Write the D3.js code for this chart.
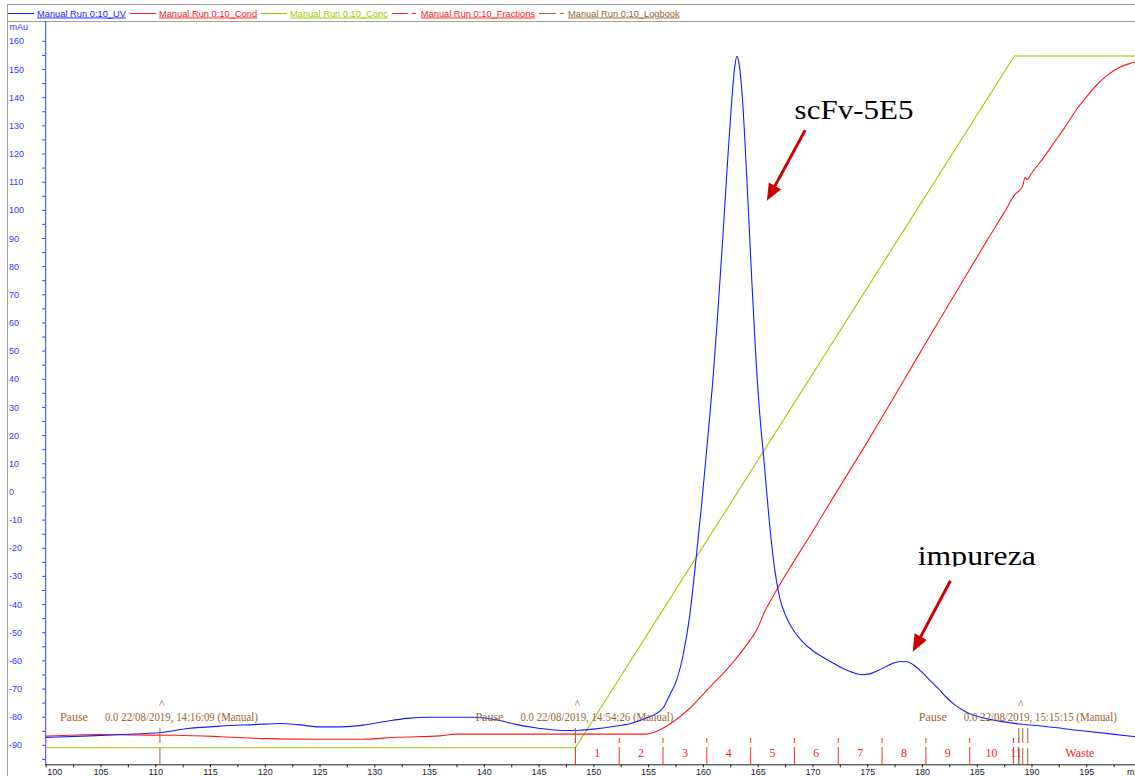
<!DOCTYPE html>
<html>
<head>
<meta charset="utf-8">
<script src="https://cdn.jsdelivr.net/npm/d3@7"></script>
<style>
  html, body { margin: 0; padding: 0; background: #ffffff; }
  svg { display: block; }
</style>
</head>
<body>
<svg id="chart" width="1135" height="776"></svg>
<script>
// ---- Chromatogram data (volume in ml) ----
const uvMl = [100, 104, 107, 110.5, 113, 116, 119, 121.5, 123, 125, 127, 129, 131, 133, 135, 139, 141, 143, 145, 147.2,
  148.7, 150, 151.8, 153.5, 154.8, 155.7, 156.35, 157.0, 157.6, 158.2, 158.8, 159.4, 159.9, 160.4, 160.9, 161.3, 161.8,
  162.2, 162.6, 162.9, 163.1, 163.3, 163.6, 164.0, 164.4, 164.8, 165.2, 165.6, 166.0, 166.5, 167.0, 167.6, 168.3, 169.0,
  170, 171, 172, 173, 174, 174.6, 175.3, 176, 177, 178, 178.6, 179.3, 180, 180.7, 181.5, 182.2, 183, 183.7, 184.5, 185.2,
  186.8, 188.9, 191.3, 194.4, 197.4, 200];
const uvValues = [-87.4, -86.8, -86.3, -85.6, -84.2, -83.3, -82.8, -82.4, -82.8, -83.6, -83.6, -83, -81.7, -80.6, -80.2, -80.2, -81, -82.8, -84.1, -84.9,
  -84.8, -84.4, -83.5, -82.3, -80.5, -79, -77, -72, -67, -58, -44, -23, -4, 17, 39, 60, 89,
  114, 137, 150.5, 154.5, 152, 140, 112, 80, 50, 27, 10, -8, -26, -37.5, -44.5, -49.5, -53,
  -56.5, -59, -61.2, -63.2, -64.7, -65.1, -64.7, -63.6, -61.6, -60.4, -60.5, -61.8, -64.2, -67, -70, -73, -75.8, -77.6, -79.2, -80,
  -81.4, -82.6, -83.5, -84.9, -86.2, -87.3];

const condMl = [100, 105, 108, 112, 116, 120, 125, 129, 132, 136, 137.5, 154.8, 155.5, 156.35, 157.1, 157.9, 158.8, 159.7,
  161, 162, 163, 164, 165, 165.6, 166.5, 168, 170, 172, 175, 178, 181, 184, 186, 187.5, 188.44, 189.2, 189.4, 189.6,
  190, 191, 192, 193, 194, 195, 196, 197, 198, 199, 200];
const condValues = [-86.9, -86.3, -86.5, -86.6, -87.1, -87.8, -88, -88, -87.3, -86.8, -86.2, -86.2, -85.6, -84.1, -82.3, -80, -77, -73.4,
  -68, -64, -59.5, -54.5, -48.5, -43, -36.6, -26.8, -14.3, -1.5, 17.5, 37.2, 57, 76.5, 89.5, 99, 105.2, 108.5, 111.5, 110.8,
  113, 118, 123.5, 129, 135, 140, 144.5, 148, 150.5, 152, 152.8];

const concMl = [100, 148.36, 188.44, 200];
const concValues = [-91, -91, 154.6, 154.6];

// fraction boundaries (start of each fraction) and their labels; last one runs to the end
const fractionStarts = [148.36, 152.36, 156.36, 160.36, 164.36, 168.36, 172.36, 176.36, 180.36, 184.36, 188.36, 188.83];
const fractionLabels = ["1", "2", "3", "4", "5", "6", "7", "8", "9", "10", "11", "Waste"];
const fractionEnd = 200;

// logbook events
const logbookMl = [110.43, 148.36, 188.84, 189.2, 189.66];
const logbookEvent = ["Pause", "Pause", "Pause", "", ""];
const logbookInfo = ["0.0 22/08/2019, 14:16:09 (Manual)", "0.0 22/08/2019, 14:54:26 (Manual)", "0.0 22/08/2019, 15:15:15 (Manual)", "", ""];

// curve legend
const legendNames = ["Manual Run 0:10_UV", "Manual Run 0:10_Cond", "Manual Run 0:10_Conc", "Manual Run 0:10_Fractions", "Manual Run 0:10_Logbook"];
const legendColors = ["#1a1aff", "#ff2020", "#99cc00", "#ff2020", "#9a6630"];
const legendDash = [null, null, null, "16,4,4,10", "17,4,4,10"];

// axis ticks
const yTicks = d3.range(-95, 161, 5);
const xTicks = d3.range(100, 199, 2.5);

// peak annotations
const noteLabels = ["scFv-5E5", "impureza"];
const noteTextMl = [168.37, 179.62];
const noteTextVal = [132.2, -26.1];
const noteFromMl = [169.34, 182.6];
const noteFromVal = [128.3, -31.7];
const noteTipMl = [165.84, 179.16];
const noteTipVal = [103.2, -56.9];
const noteWidths = [119, 118];

// ---- Layout ----
const W = 1135, H = 776;
const plotLeft = 45.7, plotRight = 1135, plotTop = 21, plotBottom = 764.3;

const x = d3.scaleLinear().domain([100, 199.45]).range([plotLeft, plotRight]);
const y = d3.scaleLinear().domain([-96.9, 167.05]).range([plotBottom, plotTop]);

const svg = d3.select("#chart");
const sans = "'Liberation Sans', Arial, sans-serif";
const serif = "'Liberation Serif', 'Times New Roman', serif";

const defs = svg.append("defs");
defs.append("clipPath").attr("id", "plotClip")
  .append("rect").attr("x", plotLeft).attr("y", plotTop).attr("width", plotRight - plotLeft).attr("height", plotBottom - plotTop);
defs.append("clipPath").attr("id", "noteClip")
  .append("rect").attr("x", 0).attr("y", 0).attr("width", W).attr("height", 566.5);

// frame
const frame = svg.append("g").attr("stroke", "#a0a0a0").attr("stroke-width", 1);
frame.append("line").attr("x1", 7.5).attr("x2", W).attr("y1", 4.5).attr("y2", 4.5);
frame.append("line").attr("x1", 7.5).attr("x2", W).attr("y1", 21.5).attr("y2", 21.5);
frame.append("line").attr("x1", 7.5).attr("x2", 7.5).attr("y1", 4.5).attr("y2", H);

// legend
const legend = svg.append("g");
let lx = 8;
legendNames.forEach((name, i) => {
  legend.append("line")
    .attr("x1", lx).attr("x2", lx + 26).attr("y1", 13.5).attr("y2", 13.5)
    .attr("stroke", legendColors[i]).attr("stroke-width", 1)
    .attr("stroke-dasharray", legendDash[i]);
  const t = legend.append("text")
    .attr("x", lx + 29).attr("y", 16.5)
    .attr("font-family", sans).attr("font-size", "9.3px")
    .attr("fill", legendColors[i])
    .style("text-decoration", "underline")
    .text(name);
  lx = lx + 29 + t.node().getComputedTextLength() + 4;
});

// y axis
const yAxis = d3.axisLeft(y).tickValues(yTicks).tickSize(3).tickSizeOuter(0)
  .tickFormat(d => (d % 10 === 0 ? d : ""));
const yg = svg.append("g").attr("transform", `translate(${plotLeft - 0.5},0)`).call(yAxis);
yg.select(".domain").attr("stroke", "#3a3aff").attr("d", `M0.5,${plotTop}V${plotBottom}`);
yg.selectAll(".tick line").attr("stroke", "#3a3aff");
yg.selectAll(".tick text")
  .attr("x", 9.5 - plotLeft).attr("text-anchor", "start").attr("dy", "0.34em")
  .attr("fill", "#3333ff").attr("font-family", sans).attr("font-size", "9px");
svg.append("text").attr("x", 9.5).attr("y", 30).attr("fill", "#3333ff")
  .attr("font-family", sans).attr("font-size", "9px").text("mAu");

// x axis
const xAxis = d3.axisBottom(x).tickValues(xTicks).tickSize(3).tickSizeOuter(0)
  .tickFormat(d => (d % 5 === 0 ? d : ""));
const xg = svg.append("g").attr("transform", `translate(0,${plotBottom})`).call(xAxis);
xg.select(".domain").attr("stroke", "#202020").attr("d", `M${plotLeft - 0.5},0.5H${W}`);
xg.selectAll(".tick line").attr("stroke", "#202020");
xg.selectAll(".tick text")
  .attr("y", 4).attr("fill", "#1a1a2a").attr("font-family", sans).attr("font-size", "9px");
xg.selectAll(".tick text").filter(d => d === 100).attr("text-anchor", "start").attr("x", 1);
svg.append("text").attr("x", 1127).attr("y", 774.6).attr("fill", "#1a1a2a")
  .attr("font-family", sans).attr("font-size", "9px").text("ml");

// curves
const plot = svg.append("g").attr("clip-path", "url(#plotClip)");
const curve = (mls, vals, kind) => d3.line()
  .x((d, i) => x(mls[i])).y((d, i) => y(vals[i])).curve(kind)(vals);

plot.append("path").attr("d", curve(concMl, concValues, d3.curveLinear))
  .attr("fill", "none").attr("stroke", "#99cc00").attr("stroke-width", 1.1);
plot.append("path").attr("d", curve(condMl, condValues, d3.curveMonotoneX))
  .attr("fill", "none").attr("stroke", "#ff1a1a").attr("stroke-width", 1.1);

// fractions
const fracG = svg.append("g").attr("clip-path", "url(#plotClip)");
fractionStarts.forEach((s, i) => {
  fracG.append("line")
    .attr("x1", x(s)).attr("x2", x(s)).attr("y1", 738).attr("y2", plotBottom)
    .attr("stroke", "#ff2a2a").attr("stroke-width", 1)
    .attr("stroke-dasharray", "5,4,40");
  const end = i + 1 < fractionStarts.length ? fractionStarts[i + 1] : fractionEnd;
  fracG.append("text")
    .attr("x", (x(s) + x(end)) / 2).attr("y", 757.3)
    .attr("text-anchor", "middle")
    .attr("font-family", serif).attr("font-size", "12px").attr("fill", "#ff2020")
    .text(fractionLabels[i]);
});

// logbook
const logG = svg.append("g");
logbookMl.forEach((m, i) => {
  const ex = x(m);
  logG.append("line")
    .attr("x1", ex).attr("x2", ex).attr("y1", 728).attr("y2", plotBottom)
    .attr("stroke", "#9a6630").attr("stroke-width", 1)
    .attr("stroke-dasharray", "15,5,40");
  if (logbookEvent[i]) {
    logG.append("text").attr("x", ex + 2).attr("y", 708).attr("text-anchor", "middle")
      .attr("font-family", serif).attr("font-size", "12px").attr("fill", "#9a6630").text("^");
    logG.append("text").attr("x", ex - 100).attr("y", 720.7)
      .attr("font-family", serif).attr("font-size", "12px").attr("fill", "#9a6630").text(logbookEvent[i]);
    logG.append("text").attr("x", ex - 55).attr("y", 720.7)
      .attr("font-family", serif).attr("font-size", "11.6px").attr("fill", "#9a6630")
      .attr("textLength", 153).attr("lengthAdjust", "spacingAndGlyphs")
      .text(logbookInfo[i]);
  }
});

// UV on top
plot.append("path").attr("d", curve(uvMl, uvValues, d3.curveMonotoneX))
  .attr("fill", "none").attr("stroke", "#1a1aff").attr("stroke-width", 1.1);

// peak annotations
const notes = svg.append("g");
noteLabels.forEach((label, i) => {
  notes.append("text")
    .attr("x", x(noteTextMl[i])).attr("y", y(noteTextVal[i]))
    .attr("font-family", serif).attr("font-size", "28px").attr("fill", "#000")
    .attr("textLength", noteWidths[i]).attr("lengthAdjust", "spacingAndGlyphs")
    .attr("clip-path", i === 1 ? "url(#noteClip)" : null)
    .text(label);
  const x0 = x(noteFromMl[i]), y0 = y(noteFromVal[i]);
  const x1 = x(noteTipMl[i]), y1 = y(noteTipVal[i]);
  const len = Math.hypot(x1 - x0, y1 - y0);
  const ux = (x1 - x0) / len, uy = (y1 - y0) / len;
  const headLen = 17, headHalf = 7;
  const bx = x1 - ux * headLen, by = y1 - uy * headLen;
  notes.append("line")
    .attr("x1", x0).attr("y1", y0).attr("x2", bx + ux * 2).attr("y2", by + uy * 2)
    .attr("stroke", "#cc0000").attr("stroke-width", 3);
  notes.append("path")
    .attr("d", `M${x1},${y1}L${bx - uy * headHalf},${by + ux * headHalf}L${bx + uy * headHalf},${by - ux * headHalf}Z`)
    .attr("fill", "#cc0000");
});
</script>
</body>
</html>
